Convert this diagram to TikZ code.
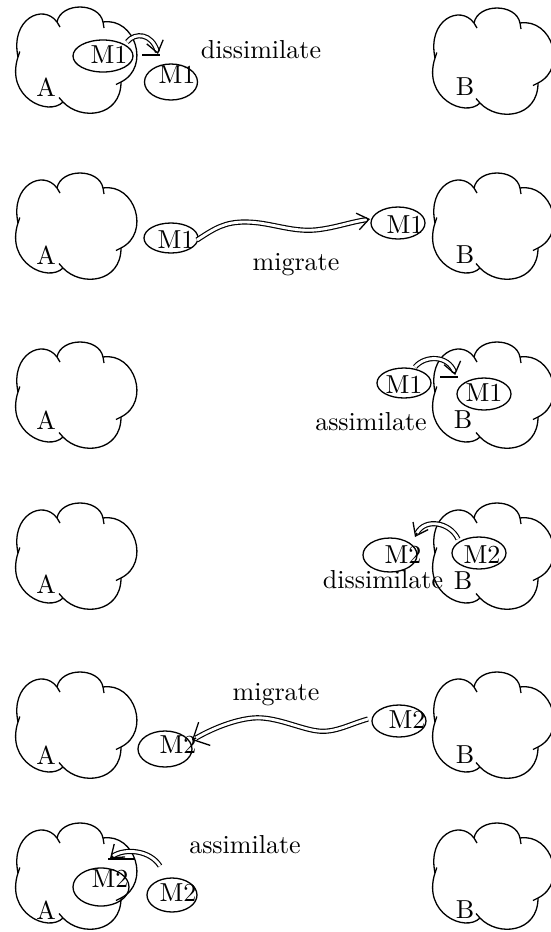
\documentclass[tikz,border=0pt]{standalone}
\usetikzlibrary{shapes.geometric,arrows.meta}
\newdimen\pxu \pxu=0.3846pt
\begin{document}
\begin{tikzpicture}[x=0.3846pt,y=-0.3846pt, line width=0.5pt,
  ell/.style={draw, ellipse, inner sep=0pt},
  txt/.style={inner sep=0pt, font=\fontsize{10}{12}\selectfont},
  dbl/.style={double, double distance=1.1pt, line width=0.45pt},
  tipb/.style={-{Straight Barb[length=4.4pt,width=6.5pt]}},
  tipbig/.style={-{Straight Barb[length=5pt,width=10pt]}},
  bar/.style={line width=0.9pt},
  cloud/.pic={
    \draw (5,50) .. controls (-3,12) and (30,-4) .. (44,15) -- ++(3,5);
    \draw (44,15) .. controls (48,-5) and (86,-5) .. (90,15) -- ++(1,6);
    \draw (90,15) .. controls (122,10) and (138,60) .. (108,75) -- ++(-5,2.5);
    \draw (108,75) .. controls (108,110) and (68,114) .. (50,95) -- ++(-4,-4.5);
    \draw (50,95) .. controls (35,110) and (-8,90) .. (5,50) -- ++(1.8,-5.5);
  }]
\useasboundingbox (0,0) rectangle (551,932);

% clouds
\pic at (13,7) {cloud};   \pic at (430,8) {cloud};
\pic at (13,173) {cloud}; \pic at (430,173) {cloud};
\pic at (13,342) {cloud}; \pic at (430,342) {cloud};
\pic at (13,503) {cloud}; \pic at (430,503) {cloud};
\pic at (13,672) {cloud}; \pic at (430,672) {cloud};
\pic at (13,823) {cloud}; \pic at (430,823) {cloud};

% labels A / B
\node[txt] (A1) at (46,87) {A};  \node[txt] (B1) at (465,87) {B};
\node[txt] (A2) at (46,255) {A}; \node[txt] (B2) at (465,255) {B};
\node[txt] (A3) at (46,420) {A}; \node[txt] (B3) at (463,420) {B};
\node[txt] (A4) at (46,584) {A}; \node[txt] (B4) at (463,581) {B};
\node[txt] (A5) at (46,755) {A}; \node[txt] (B5) at (465,755) {B};
\node[txt] (A6) at (46,910) {A}; \node[txt] (B6) at (465,910) {B};

% ---------- row 1: dissimilate ----------
\node[ell, minimum width=60*\pxu, minimum height=32*\pxu] (e1a) at (103,56) {};
\node[txt] (t1a) at (109,55) {M1};
\node[ell, minimum width=53*\pxu, minimum height=36*\pxu] (e1b) at (171,82) {};
\node[txt] (t1b) at (177,75) {M1};
\node[txt] (l1) at (261,50) {dissimilate};
\coordinate (s1) at (127,42);
\coordinate (h1) at (157.5,52);
\coordinate (k1) at (158,54);
\draw[dbl] (s1) .. controls (135,32) and (152,33) .. (h1);
\draw[tipb] (h1) -- (k1);
\coordinate (b1a) at (142,55); \coordinate (b1b) at (160,55);
\draw[bar] (b1a) -- (b1b);

% ---------- row 2: migrate ----------
\node[ell, minimum width=54*\pxu, minimum height=30*\pxu] (e2a) at (171,238) {};
\node[txt] (t2a) at (176,240) {M1};
\node[ell, minimum width=54*\pxu, minimum height=32*\pxu] (e2b) at (398,223) {};
\node[txt] (t2b) at (405,225) {M1};
\node[txt] (l2) at (296,265) {migrate};
\coordinate (s2) at (197,240);
\coordinate (h2) at (367,219.6);
\coordinate (k2) at (370,219);
\draw[dbl] (s2) .. controls (215,228) and (225,222) .. (245,222)
  .. controls (270,222) and (290,232) .. (315,230)
  .. controls (335,228) and (350,222) .. (h2);
\draw[tipb] (h2) -- (k2);

% ---------- row 3: assimilate ----------
\node[ell, minimum width=54*\pxu, minimum height=30*\pxu] (e3a) at (404,383) {};
\node[txt] (t3a) at (404,385) {M1};
\node[ell, minimum width=54*\pxu, minimum height=32*\pxu] (e3b) at (484,394) {};
\node[txt] (t3b) at (484,393) {M1};
\node[txt] (l3) at (371,422) {assimilate};
\coordinate (s3) at (415,367);
\coordinate (h3) at (454.5,372);
\coordinate (k3) at (455.2,375);
\draw[dbl] (s3) .. controls (425,355) and (448,355) .. (h3);
\draw[tipb] (h3) -- (k3);
\coordinate (b3a) at (440,377); \coordinate (b3b) at (458,377);
\draw[bar] (b3a) -- (b3b);

% ---------- row 4: dissimilate ----------
\node[ell, minimum width=54*\pxu, minimum height=34*\pxu] (e4a) at (390,555) {};
\node[txt] (t4a) at (403,555) {M2};
\node[ell, minimum width=54*\pxu, minimum height=32*\pxu] (e4b) at (479,553) {};
\node[txt] (t4b) at (482,555) {M2};
\node[txt] (l4) at (383,580) {dissimilate};
\coordinate (s4) at (458,539);
\coordinate (h4) at (417,533);
\coordinate (k4) at (415,537);
\draw[dbl] (s4) .. controls (450,522) and (425,518) .. (h4);
\draw[tipb] (h4) -- (k4);

% ---------- row 5: migrate ----------
\node[ell, minimum width=54*\pxu, minimum height=36*\pxu] (e5a) at (165,749) {};
\node[txt] (t5a) at (178,745) {M2};
\node[ell, minimum width=54*\pxu, minimum height=32*\pxu] (e5b) at (399,721) {};
\node[txt] (t5b) at (407,720) {M2};
\node[txt] (l5) at (276,695) {migrate};
\coordinate (s5) at (368,719);
\coordinate (h5) at (196,738);
\coordinate (k5) at (192,740);
\draw[dbl] (s5) .. controls (350,724) and (335,733) .. (318,731)
  .. controls (300,729) and (275,716) .. (253,718)
  .. controls (232,720) and (210,730) .. (h5);
\draw[tipbig] (h5) -- (k5);

% ---------- row 6: assimilate ----------
\node[ell, minimum width=56*\pxu, minimum height=38*\pxu] (e6a) at (101,887) {};
\node[txt] (t6a) at (110,879) {M2};
\node[ell, minimum width=50*\pxu, minimum height=34*\pxu] (e6b) at (172,895) {};
\node[txt] (t6b) at (178,893) {M2};
\node[txt] (l6) at (245,845) {assimilate};
\coordinate (s6) at (160,866);
\coordinate (h6) at (113,856);
\coordinate (k6) at (110,858.5);
\draw[dbl] (s6) .. controls (150,850) and (125,848) .. (h6);
\draw[tipb] (h6) -- (k6);
\coordinate (b6a) at (108,859); \coordinate (b6b) at (135,859);
\draw[bar] (b6a) -- (b6b);
\end{tikzpicture}
\end{document}
